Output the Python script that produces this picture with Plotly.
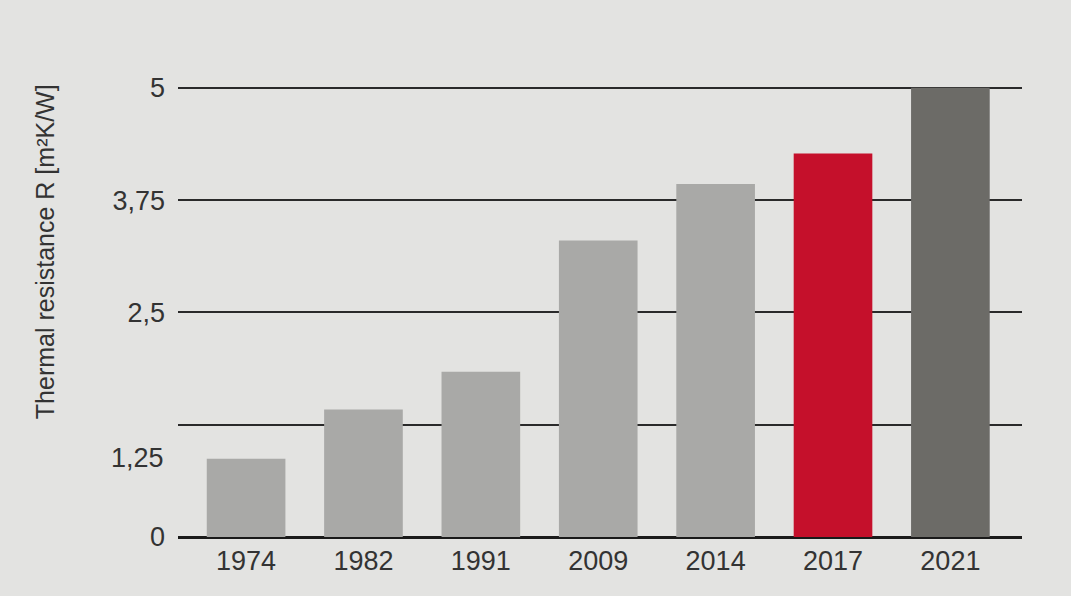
import plotly.graph_objects as go

years = ["1974", "1982", "1991", "2009", "2014", "2017", "2021"]
r_values = [0.87, 1.42, 1.84, 3.30, 3.93, 4.27, 5.0]
bar_colors = ["#a9a9a7", "#a9a9a7", "#a9a9a7", "#a9a9a7", "#a9a9a7", "#c5102b", "#6c6b67"]
y_tick_vals = [0, 1.25, 2.5, 3.75, 5]
y_tick_text = ["0", "", "2,5", "3,75", "5"]
offset_label_text = "1,25"
offset_label_value = 0.88
y_title = "Thermal resistance R [m²K/W]"

BG = "#e3e3e1"
FONT = "Liberation Sans, Arial, sans-serif"
TXT = "#333333"

fig = go.Figure()
fig.add_trace(go.Bar(
    x=years, y=r_values,
    marker=dict(color=bar_colors, line=dict(width=0)),
    showlegend=False,
    hoverinfo="x+y",
))

fig.update_layout(
    width=1071, height=596,
    paper_bgcolor=BG, plot_bgcolor=BG,
    margin=dict(l=178, r=49, t=86, b=59),
    bargap=0.33,
    font=dict(family=FONT, color=TXT, size=27),
    xaxis=dict(
        type="category",
        range=[-0.58, 6.61],
        showgrid=False,
        showline=False,
        zeroline=False,
        ticks="",
        tickfont=dict(size=27, color=TXT),
        ticklabelstandoff=5,
        fixedrange=True,
    ),
    yaxis=dict(
        range=[0, 5.02],
        tickvals=y_tick_vals,
        ticktext=y_tick_text,
        showgrid=True,
        gridcolor="#2a2a2a",
        gridwidth=1.5,
        zeroline=True,
        zerolinecolor="#1a1a1a",
        zerolinewidth=2.5,
        showline=False,
        ticks="",
        tickfont=dict(size=27, color=TXT),
        ticklabelstandoff=12,
        fixedrange=True,
    ),
    annotations=[
        dict(
            text=offset_label_text,
            x=-0.58, xref="x", y=offset_label_value, yref="y",
            xanchor="right", yanchor="middle", xshift=-12,
            showarrow=False,
            font=dict(size=27, color=TXT, family=FONT),
        ),
        dict(
            text=y_title,
            x=-0.158, xref="paper", y=0.633, yref="paper",
            xanchor="center", yanchor="middle",
            textangle=-90, showarrow=False,
            font=dict(size=25, color=TXT, family=FONT),
        ),
    ],
)

fig.write_html("out.html", config={"displayModeBar": False},
               post_script="document.body.style.margin='0';")
